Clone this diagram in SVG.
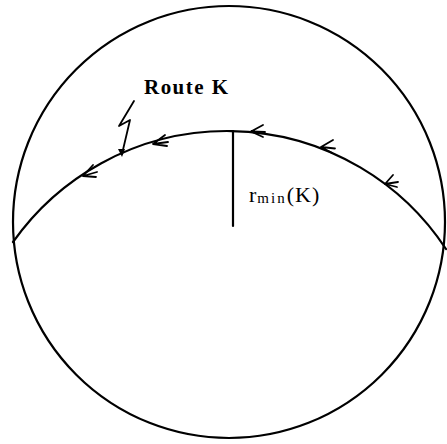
<svg xmlns="http://www.w3.org/2000/svg" width="447" height="444" viewBox="0 0 447 444">
<style>
.ln{fill:none;stroke:#000;stroke-width:2.2;stroke-linecap:round}
.ar{fill:none;stroke:#000;stroke-width:1.8;stroke-linecap:round;stroke-linejoin:round}
.t{font-family:"Liberation Serif",serif;fill:#000}
</style>
<rect width="447" height="444" fill="#fff"/>
<g id="sphere"><circle cx="229" cy="222" r="216" class="ln"/></g>
<g id="route">
<path d="M 446 249 A 262 262 0 0 0 13 242" class="ln" stroke-width="2.6"/>
<line x1="233" y1="131" x2="233" y2="226" class="ln" stroke-width="2"/>
</g>
<g id="arrows" class="ar">
<path d="M 263 125 L 251 131.5 L 263 137 M 251 131.5 L 265 132"/>
<path d="M 333 140 L 321 147 L 332 153 M 321 147 L 335 148.5"/>
<path d="M 393 175 L 385 184 L 397 187 M 385 184 L 398 182"/>
<path d="M 165 135 L 153 144 L 167 146 M 153 144 L 168 142"/>
<path d="M 93 165 L 83 176 L 96 177 M 83 176 L 97 172"/>
</g>
<g id="leader">
<path d="M 134 101 L 119 126 L 130 120 L 122 154" class="ar" stroke-width="1.5"/>
<path d="M 118 149 L 122 157 L 125 149 Z" fill="#000"/>
</g>
<g id="labels">
<text x="144" y="94" class="t" font-size="21" font-weight="bold" textLength="84" lengthAdjust="spacing">Route K</text>
<text x="249" y="202" class="t" font-size="22" letter-spacing="1">r<tspan font-size="15" dy="1" letter-spacing="2">min</tspan><tspan dy="-1">(K)</tspan></text>
</g>
</svg>
